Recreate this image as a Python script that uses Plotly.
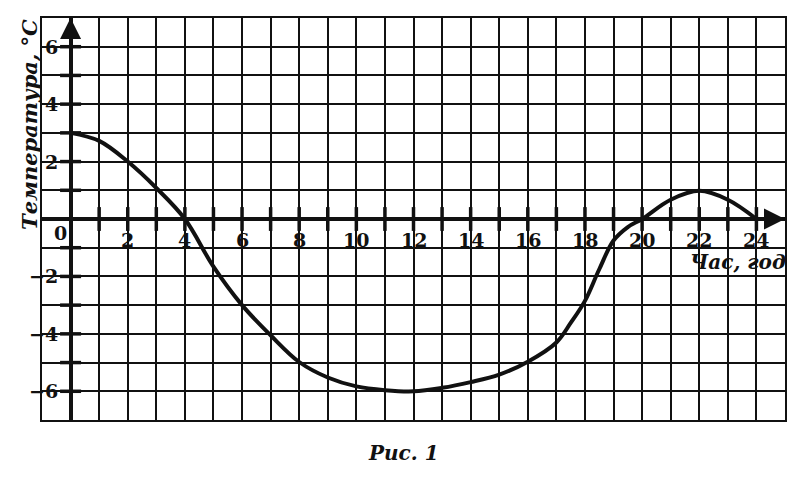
import plotly.graph_objects as go

# data
hours = [0, 1, 2, 3, 4, 5, 6, 7, 8, 9, 10, 11, 12, 13, 14, 15, 16, 17, 17.5, 18, 18.5, 19, 19.5, 20, 21, 22, 23, 24]
temps = [3, 2.72, 2.0, 1.08, 0, -1.66, -3.0, -4.05, -4.98, -5.52, -5.83, -5.96, -6, -5.88, -5.68, -5.42, -4.97, -4.3, -3.62, -2.85, -1.75, -0.75, -0.28, 0, 0.67, 0.98, 0.67, 0]

x_tick_vals = [2, 4, 6, 8, 10, 12, 14, 16, 18, 20, 22, 24]
x_tick_text = ["2", "4", "6", "8", "10", "12", "14", "16", "18", "20", "22", "24"]
y_tick_vals = [6, 4, 2, -2, -4, -6]
y_tick_text = ["6", "4", "2", "\u22122", "\u22124", "\u22126"]
x_minor = list(range(1, 25))
y_minor = [v for v in range(-6, 7) if v != 0]

x_title = "Час, год"
y_title = "Температура, °C"
caption = "Рис. 1"

FONT = "DejaVu Serif"
INK = "#111111"

# page body has an 8px margin; plot area in window pixels: 42..785 x 18..420
OFF = 8
W, H = 800 - OFF, 477 - OFF
PL, PR, PT, PB = 42, 785, 18, 420
L, R, T, B = PL - OFF, 800 - PR, PT - OFF, 477 - PB


def px_x(px):
    return (px - PL) / (PR - PL)


def px_y(py):
    return (PB - py) / (PB - PT)


fig = go.Figure()

fig.add_trace(go.Scatter(
    x=hours, y=temps, mode="lines",
    line=dict(color=INK, width=4, shape="spline", smoothing=1.0),
    hoverinfo="skip", showlegend=False,
))
# tick marks on the axes
fig.add_trace(go.Scatter(
    x=x_minor, y=[0] * len(x_minor), mode="markers",
    marker=dict(symbol="line-ns", size=17, line=dict(color=INK, width=3.5)),
    hoverinfo="skip", showlegend=False,
))
fig.add_trace(go.Scatter(
    x=[0] * len(y_minor), y=y_minor, mode="markers",
    marker=dict(symbol="line-ew", size=15, line=dict(color=INK, width=3.5)),
    hoverinfo="skip", showlegend=False,
))

tick_font = dict(family=FONT, size=19, color=INK, weight="bold")
title_font = dict(family=FONT, size=20, color=INK, weight="bold", style="italic")

annotations = []
for v, t in zip(x_tick_vals, x_tick_text):
    annotations.append(dict(x=v, y=0, xref="x", yref="y", text=t, showarrow=False,
                            xanchor="center", yanchor="middle", yshift=-21, font=tick_font))
annotations.append(dict(x=-0.35, y=0, xref="x", yref="y", text="0", showarrow=False,
                        xanchor="center", yanchor="middle", yshift=-14, font=tick_font))
for v, t in zip(y_tick_vals, y_tick_text):
    annotations.append(dict(x=0, y=v, xref="x", yref="y", text=t, showarrow=False,
                            xanchor="right", yanchor="middle", xshift=-11, font=tick_font))
# arrows
for tip, tail in [((25, 0), (24.2, 0)), ((0, 7), (0, 6.2))]:
    annotations.append(dict(x=tip[0], y=tip[1], ax=tail[0], ay=tail[1],
                            xref="x", yref="y", axref="x", ayref="y",
                            text="", showarrow=True, arrowhead=2, arrowsize=1.4, arrowwidth=3,
                            arrowcolor=INK))
# titles
annotations.append(dict(x=px_x(738), y=px_y(262), xref="paper", yref="paper", text=x_title,
                        showarrow=False, xanchor="center", yanchor="middle", font=title_font))
annotations.append(dict(x=px_x(30), y=px_y(125), xref="paper", yref="paper", text=y_title,
                        showarrow=False, xanchor="center", yanchor="middle", textangle=-90,
                        font=dict(family=FONT, size=21, color=INK, weight="bold", style="italic")))
annotations.append(dict(x=px_x(403), y=px_y(453), xref="paper", yref="paper", text=caption,
                        showarrow=False, xanchor="center", yanchor="middle", font=title_font))

axis_common = dict(dtick=1, tick0=0, showgrid=True, gridcolor=INK, gridwidth=1.6,
                   zeroline=True, zerolinecolor=INK, zerolinewidth=3.5,
                   showline=True, mirror=True, linecolor=INK, linewidth=1.6,
                   showticklabels=False, ticks="", fixedrange=True)

fig.update_layout(
    width=W, height=H,
    margin=dict(l=L, r=R, t=T, b=B, autoexpand=False),
    paper_bgcolor="white", plot_bgcolor="white",
    annotations=annotations,
    xaxis=dict(range=[-1, 25], **axis_common),
    yaxis=dict(range=[-7, 7], **axis_common),
)

fig.write_html("out.html")
